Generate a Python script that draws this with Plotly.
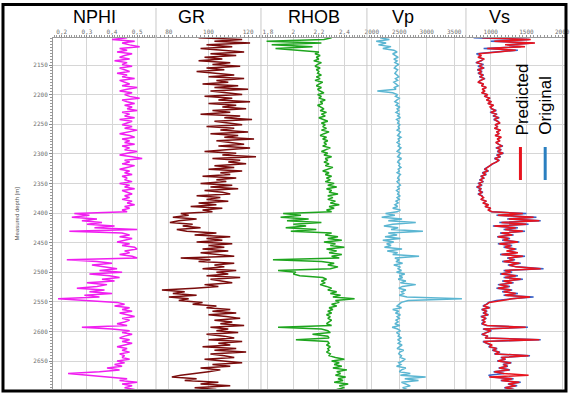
import numpy as np
import plotly.graph_objects as go
from plotly.subplots import make_subplots

# Depth sampling of the logs (m), 3 m step
depth = np.arange(2104, 2699, 3)

nphi = [
    0.46, 0.40, 0.49, 0.44, 0.47, 0.51, 0.43, 0.46, 0.42, 0.48,
    0.45, 0.43, 0.47, 0.41, 0.46, 0.44, 0.48, 0.43, 0.45, 0.47,
    0.42, 0.46, 0.44, 0.49, 0.43, 0.45, 0.47, 0.44, 0.50, 0.46,
    0.43, 0.48, 0.45, 0.47, 0.51, 0.44, 0.46, 0.49, 0.45, 0.48,
    0.46, 0.50, 0.44, 0.47, 0.45, 0.49, 0.43, 0.48, 0.46, 0.44,
    0.48, 0.45, 0.50, 0.46, 0.43, 0.47, 0.49, 0.44, 0.47, 0.45,
    0.49, 0.44, 0.47, 0.45, 0.50, 0.46, 0.43, 0.48, 0.52, 0.45,
    0.47, 0.44, 0.49, 0.46, 0.43, 0.47, 0.45, 0.48, 0.44, 0.46,
    0.45, 0.48, 0.43, 0.47, 0.45, 0.49, 0.44, 0.46, 0.48, 0.45,
    0.47, 0.44, 0.48, 0.46, 0.49, 0.45, 0.47, 0.44, 0.46, 0.25,
    0.31, 0.24, 0.34, 0.28, 0.36, 0.30, 0.41, 0.33, 0.50, 0.23,
    0.44, 0.47, 0.43, 0.48, 0.45, 0.42, 0.47, 0.44, 0.49, 0.50,
    0.45, 0.47, 0.43, 0.48, 0.50, 0.22, 0.34, 0.40, 0.32, 0.38,
    0.42, 0.35, 0.44, 0.31, 0.39, 0.43, 0.36, 0.41, 0.30, 0.38,
    0.34, 0.26, 0.37, 0.31, 0.40, 0.29, 0.35, 0.185, 0.33, 0.42,
    0.45, 0.41, 0.47, 0.44, 0.48, 0.43, 0.46, 0.49, 0.44, 0.47,
    0.45, 0.42, 0.46, 0.28, 0.40, 0.47, 0.44, 0.48, 0.45, 0.43,
    0.47, 0.44, 0.48, 0.45, 0.42, 0.46, 0.44, 0.47, 0.43, 0.45,
    0.44, 0.47, 0.42, 0.45, 0.41, 0.44, 0.38, 0.43, 0.35, 0.225,
    0.30, 0.39, 0.46, 0.43, 0.50, 0.44, 0.48, 0.45, 0.49,
]

gr = [
    95, 117, 103, 121, 99, 112, 96, 109, 118, 101,
    114, 98, 107, 95, 111, 102, 116, 99, 108, 94,
    106, 113, 100, 118, 104, 110, 97, 115, 103, 120,
    101, 109, 117, 98, 112, 105, 121, 100, 114, 107,
    119, 102, 111, 96, 116, 108, 122, 103, 110, 117,
    99, 113, 106, 120, 101, 115, 108, 123, 104, 112,
    118, 105, 121, 109, 98, 114, 107, 124, 102, 116,
    110, 119, 103, 113, 100, 117, 106, 111, 97, 114,
    104, 109, 96, 112, 101, 115, 98, 107, 111, 94,
    106, 99, 110, 95, 104, 91, 107, 97, 102, 86,
    90, 82, 94, 85, 80.5, 92, 87, 96, 84, 89,
    104, 93, 111, 99, 107, 94, 112, 100, 108, 97,
    110, 96, 106, 113, 86, 101, 95, 113, 103, 108,
    97, 114, 104, 110, 99, 116, 101, 107, 112, 98,
    105, 93, 76.5, 88, 82, 94, 80, 90, 85, 97,
    92, 104, 99, 111, 102, 114, 100, 109, 116, 103,
    112, 106, 118, 101, 110, 104, 115, 99, 108, 113,
    100, 117, 105, 111, 97, 114, 103, 119, 101, 108,
    113, 98, 107, 117, 102, 111, 96, 106, 100, 92,
    86, 81.5, 94, 88, 105, 96, 111, 93, 104,
]

rhob = [
    2.30, 2.24, 1.79, 2.22, 1.83, 2.15, 1.86, 2.05, 2.20, 2.17,
    2.21, 2.18, 2.20, 2.16, 2.22, 2.19, 2.17, 2.21, 2.18, 2.20,
    2.19, 2.22, 2.18, 2.21, 2.17, 2.23, 2.20, 2.18, 2.22, 2.19,
    2.21, 2.24, 2.19, 2.22, 2.20, 2.25, 2.21, 2.23, 2.19, 2.22,
    2.24, 2.21, 2.26, 2.22, 2.25, 2.20, 2.23, 2.27, 2.22, 2.25,
    2.23, 2.26, 2.22, 2.28, 2.24, 2.21, 2.26, 2.23, 2.27, 2.24,
    2.26, 2.23, 2.29, 2.25, 2.22, 2.27, 2.24, 2.30, 2.25, 2.27,
    2.24, 2.28, 2.25, 2.31, 2.26, 2.23, 2.28, 2.25, 2.30, 2.26,
    2.29, 2.25, 2.32, 2.27, 2.34, 2.26, 2.30, 2.28, 2.35, 2.27,
    2.31, 2.27, 2.33, 2.29, 2.36, 2.28, 2.32, 2.26, 2.30, 1.92,
    2.06, 1.90, 2.12, 1.95, 2.22, 2.00, 2.10, 1.94, 2.18, 1.98,
    2.30, 2.25, 2.35, 2.27, 2.38, 2.24, 2.33, 2.29, 2.40, 2.26,
    2.34, 2.28, 2.38, 2.30, 2.36, 1.84, 2.22, 2.32, 2.27, 2.35,
    2.29, 1.88, 2.02, 2.00, 2.05, 2.23, 2.26, 2.22, 2.25, 2.21,
    2.26, 2.30, 2.27, 2.34, 2.29, 2.37, 2.31, 2.48, 2.33, 2.36,
    2.30, 2.34, 2.28, 2.31, 2.27, 2.30, 2.26, 2.29, 2.27, 2.30,
    2.28, 2.26, 2.30, 1.88, 2.22, 2.27, 2.29, 2.15, 2.27, 2.28,
    2.02, 2.27, 2.28, 2.26, 2.29, 2.27, 2.28, 2.26, 2.29, 2.28,
    2.33, 2.40, 2.30, 2.36, 2.32, 2.38, 2.31, 2.42, 2.34, 2.37,
    2.33, 2.41, 2.35, 2.39, 2.32, 2.43, 2.36, 2.40, 2.34,
]

vp = [
    2150, 2320, 2080, 2260, 2120, 2350, 2200, 2400, 2460, 2380,
    2430, 2480, 2400, 2460, 2420, 2490, 2440, 2410, 2470, 2450,
    2420, 2460, 2490, 2430, 2470, 2400, 2450, 2480, 2410, 2440,
    2100, 2380, 2470, 2430, 2500, 2450, 2420, 2480, 2440, 2510,
    2460, 2490, 2440, 2500, 2470, 2520, 2450, 2490, 2470, 2510,
    2480, 2500, 2460, 2520, 2490, 2470, 2530, 2480, 2500, 2460,
    2510, 2480, 2530, 2490, 2460, 2520, 2500, 2470, 2540, 2490,
    2470, 2510, 2490, 2530, 2480, 2500, 2460, 2520, 2490, 2470,
    2500, 2460, 2490, 2520, 2470, 2500, 2450, 2490, 2470, 2510,
    2460, 2500, 2440, 2480, 2420, 2470, 2380, 2520, 2460, 2250,
    2420, 2180, 2550, 2300, 2800, 2380, 2220, 2480, 2350, 2930,
    2300, 2460, 2240, 2520, 2200, 2400, 2270, 2350, 2230, 2550,
    2280, 2470, 2380, 2860, 2420, 2500, 2440, 2560, 2400, 2520,
    2470, 2540, 2450, 2600, 2500, 2560, 2480, 2620, 2520, 2800,
    2560, 2490, 2620, 2540, 2580, 2500, 2640, 3640, 2660, 2540,
    2500, 2460, 2540, 2380, 2490, 2430, 2520, 2460, 2500, 2440,
    2480, 2420, 2510, 2370, 2470, 2520, 2450, 2500, 2480, 2540,
    2470, 2520, 2480, 2550, 2500, 2460, 2580, 2510, 2490, 2540,
    2520, 2600, 2560, 2490, 2530, 2450, 2620, 2540, 2500, 2700,
    2520, 2980, 2600, 2850, 2540, 2620, 2700, 2560, 2640,
]

vs_original = [
    760, 1540, 1000, 1600, 1230, 1420, 900, 1380, 1060, 800,
    850, 840, 890, 870, 790, 900, 820, 910, 810, 880,
    820, 900, 840, 920, 850, 830, 890, 880, 930, 890,
    910, 880, 950, 920, 980, 950, 1000, 970, 1030, 1000,
    1010, 1080, 990, 1090, 1030, 1120, 1040, 1100, 1120, 1070,
    1090, 1060, 1130, 1090, 1110, 1070, 1140, 1100, 1120, 1080,
    1110, 1170, 1070, 1150, 1090, 1180, 1080, 1140, 1050, 1120,
    1070, 1030, 980, 960, 910, 970, 880, 940, 860, 910,
    840, 900, 820, 880, 800, 870, 830, 890, 820, 880,
    890, 870, 930, 900, 960, 930, 990, 970, 1010, 1500,
    1080, 1640, 1230, 1700, 1120, 1530, 1030, 1380, 1180, 1480,
    1130, 1320, 1090, 1270, 1160, 1400, 1100, 1300, 1180, 1360,
    1240, 1360, 1130, 1480, 1230, 1340, 1160, 1420, 1240, 1370,
    1740, 1180, 1300, 1130, 1380, 1180, 1450, 1160, 1320, 1100,
    1270, 1080, 1300, 1160, 1380, 1180, 1600, 1280, 1080, 970,
    940, 890, 990, 870, 950, 890, 970, 860, 940, 880,
    910, 870, 940, 1520, 890, 1010, 930, 870, 950, 930,
    1700, 890, 940, 1010, 970, 1090, 1020, 1130, 1050, 1550,
    1140, 1210, 1090, 1290, 1170, 1240, 1110, 1270, 1040, 1190,
    970, 1010, 1320, 1140, 1420, 1240, 1370, 1190, 1330,
]

vs_predicted = [
    880, 1560, 1050, 1620, 1200, 1480, 950, 1350, 1100, 830,
    870, 820, 910, 850, 800, 880, 840, 900, 820, 870,
    830, 890, 850, 910, 860, 820, 900, 870, 940, 880,
    920, 870, 960, 910, 990, 940, 1010, 960, 1040, 990,
    1020, 1070, 1000, 1080, 1040, 1110, 1050, 1090, 1130, 1060,
    1100, 1050, 1140, 1080, 1120, 1060, 1150, 1090, 1130, 1070,
    1120, 1160, 1080, 1140, 1100, 1170, 1090, 1130, 1060, 1110,
    1080, 1020, 990, 950, 920, 960, 890, 930, 870, 900,
    850, 890, 830, 870, 810, 860, 840, 880, 830, 870,
    900, 860, 940, 890, 970, 920, 1000, 960, 1020, 1450,
    1100, 1600, 1250, 1680, 1150, 1500, 1050, 1350, 1200, 1450,
    1150, 1300, 1100, 1250, 1180, 1380, 1120, 1280, 1200, 1340,
    1220, 1380, 1150, 1450, 1250, 1320, 1180, 1400, 1260, 1350,
    1700, 1200, 1280, 1150, 1350, 1200, 1420, 1180, 1300, 1120,
    1250, 1100, 1280, 1180, 1350, 1200, 1550, 1300, 1100, 980,
    950, 900, 980, 880, 940, 900, 960, 870, 930, 890,
    920, 880, 950, 1490, 900, 1000, 940, 880, 960, 920,
    1680, 900, 950, 1020, 980, 1080, 1030, 1120, 1060, 1530,
    1150, 1200, 1100, 1280, 1180, 1230, 1120, 1260, 1050, 1180,
    1530, 980, 1300, 1150, 1400, 1250, 1350, 1200, 1320,
]

track_names = ["NPHI", "GR", "RHOB", "Vp", "Vs"]
tick_values = [
    [0.2, 0.3, 0.4, 0.5],
    [80, 100, 120],
    [1.8, 2.0, 2.2, 2.4],
    [2000, 2500, 3000, 3500],
    [1000, 1500, 2000],
]
tick_labels = [
    ["0,2", "0,3", "0,4", "0,5"],
    ["80", "100", "120"],
    ["1,8", "2", "2,2", "2,4"],
    ["2000", "2500", "3000", "3500"],
    ["1000", "1500", "2000"],
]
depth_ticks = [2150, 2200, 2250, 2300, 2350, 2400, 2450, 2500, 2550, 2600, 2650]

# Layout geometry (pixels)
W, H = 573, 393
ML, MR, MT, MB = 53, 3, 38, 4
PW, PH = W - ML - MR, H - MT - MB
track_px = [53, 157, 263, 370, 470, 570]
widths = [track_px[i + 1] - track_px[i] for i in range(5)]

x_ranges = [[0.165, 0.575], [73.5, 126.5], [1.746, 2.577], [1911, 3714], [653, 2040]]
minor_steps = [0.01, 2, 0.02, 50, 50]
colors = ["#f01ef0", "#7a0c0c", "#1ea51e", "#5bb6d2"]


def px_x(px):
    return (px - ML) / PW


def px_y(py):
    return (H - MB - py) / PH


fig = make_subplots(rows=1, cols=5, shared_yaxes=True, horizontal_spacing=0,
                    column_widths=widths)

curves = [nphi, gr, rhob, vp]
for i, c in enumerate(curves):
    fig.add_trace(go.Scatter(x=c, y=depth, mode="lines",
                             line=dict(color=colors[i], width=1.5),
                             showlegend=False), row=1, col=i + 1)
fig.add_trace(go.Scatter(x=vs_original, y=depth, mode="lines", name="Original",
                         line=dict(color="#3a62c8", width=1.5),
                         showlegend=False), row=1, col=5)
fig.add_trace(go.Scatter(x=vs_predicted, y=depth, mode="lines", name="Predicted",
                         line=dict(color="#e8141e", width=1.5),
                         showlegend=False), row=1, col=5)

tick_font = dict(family="DejaVu Sans Mono, monospace", size=6, color="#707070")
for i in range(5):
    fig.update_xaxes(
        row=1, col=i + 1, side="top", range=x_ranges[i],
        tickvals=tick_values[i], ticktext=tick_labels[i],
        tickfont=tick_font, ticks="outside", ticklen=2, tickcolor="#888888",
        ticklabeloverflow="allow", ticklabelstandoff=-1,
        showline=True, linecolor="#999999", linewidth=1,
        showgrid=True, gridcolor="#d6d6d6", gridwidth=1, zeroline=False,
        minor=dict(dtick=minor_steps[i], ticks="outside", ticklen=2,
                   tickcolor="#999999", showgrid=False),
    )

fig.update_yaxes(range=[2697.3, 2104.4], tickvals=depth_ticks,
                 showgrid=True, gridcolor="#d6d6d6", gridwidth=1, zeroline=False)
fig.update_yaxes(row=1, col=1, tickfont=tick_font, ticks="outside", ticklen=3,
                 tickcolor="#888888", showline=True, linecolor="#999999",
                 minor=dict(dtick=5, ticks="outside", ticklen=2,
                            tickcolor="#999999", showgrid=False))

# Track separators running up through the header
shapes = []
for px in track_px[1:5]:
    shapes.append(dict(type="line", xref="paper", yref="paper",
                       x0=px_x(px), x1=px_x(px), y0=0, y1=px_y(8),
                       line=dict(color="#c8c8c8", width=1)))

# Legend keys for the Vs track
shapes.append(dict(type="line", xref="paper", yref="paper",
                   x0=px_x(525), x1=px_x(525), y0=px_y(180), y1=px_y(147),
                   line=dict(color="#e8141e", width=3)))
shapes.append(dict(type="line", xref="paper", yref="paper",
                   x0=px_x(550), x1=px_x(550), y0=px_y(180), y1=px_y(147),
                   line=dict(color="#2a7fc0", width=3)))

# Outer frame
shapes.append(dict(type="rect", xref="paper", yref="paper",
                   x0=px_x(2.5), x1=px_x(571), y0=px_y(391), y1=px_y(4.5),
                   line=dict(color="black", width=3), fillcolor="rgba(0,0,0,0)"))

annotations = []
title_px = [94.5, 193, 316.5, 406.5, 504]
for name, px in zip(track_names, title_px):
    annotations.append(dict(text=name, xref="paper", yref="paper",
                            x=px_x(px), y=px_y(17), showarrow=False,
                            xanchor="center", yanchor="middle",
                            font=dict(family="Liberation Sans, Arial", size=18,
                                      color="black")))

annotations.append(dict(text="Measured depth [m]", xref="paper", yref="paper",
                        x=px_x(12), y=px_y(213), textangle=-90, showarrow=False,
                        font=dict(family="Liberation Sans, Arial", size=6,
                                  color="#555555")))

annotations.append(dict(text="Predicted", xref="paper", yref="paper",
                        x=px_x(527), y=px_y(137), textangle=-90, showarrow=False,
                        xanchor="center", yanchor="bottom",
                        font=dict(family="Liberation Sans, Arial", size=17,
                                  color="black")))
annotations.append(dict(text="Original", xref="paper", yref="paper",
                        x=px_x(550), y=px_y(137), textangle=-90, showarrow=False,
                        xanchor="center", yanchor="bottom",
                        font=dict(family="Liberation Sans, Arial", size=17,
                                  color="black")))

fig.update_layout(
    width=W, height=H,
    margin=dict(l=ML, r=MR, t=MT, b=MB),
    paper_bgcolor="white", plot_bgcolor="white",
    shapes=shapes, annotations=annotations,
    showlegend=False,
)

fig.write_html("out.html")
